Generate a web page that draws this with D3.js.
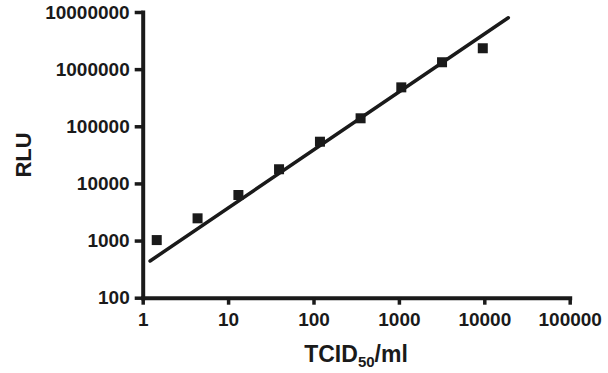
<!DOCTYPE html>
<html>
<head>
<meta charset="utf-8">
<script src="https://cdn.jsdelivr.net/npm/d3@7"></script>
<style>
  body { margin: 0; background: #fff; }
  svg { font-family: "Liberation Sans", Arial, sans-serif; font-weight: bold; }
</style>
</head>
<body>
<svg width="608" height="373"></svg>
<script>
// values
const tcid = [1.46, 4.39, 13.2, 39.5, 119, 356, 1067, 3200, 9600];
const rlu = [1020, 2450, 6270, 17700, 53700, 138000, 480000, 1320000, 2320000];
const fitX = [1.22, 19100];
const fitY = [439, 7940000];
const xTicks = [1, 10, 100, 1000, 10000, 100000];
const yTicks = [100, 1000, 10000, 100000, 1000000, 10000000];

const svg = d3.select("svg");
const ink = "#1a1a1a";

let xScale = d3.scaleLog().domain([1, 100000]).range([142.7, 569.7]);
let yScale = d3.scaleLog().domain([100, 10000000]).range([297.7, 12]);

// axes
let xAxis = d3.axisBottom(xScale).tickValues(xTicks)
  .tickFormat(d3.format("d")).tickSizeOuter(0).tickSizeInner(7).tickPadding(8);
svg.append("g").attr("id", "xAxisG")
  .attr("transform", `translate(0, ${yScale(100)})`)
  .call(xAxis);

let yAxis = d3.axisLeft(yScale).tickValues(yTicks)
  .tickFormat(d3.format("d")).tickSizeOuter(0).tickSizeInner(8).tickPadding(5);
svg.append("g").attr("id", "yAxisG")
  .attr("transform", `translate(${xScale(1)}, 0)`)
  .call(yAxis);

svg.selectAll("#xAxisG path, #yAxisG path")
  .style("stroke", ink).style("stroke-width", "4px").style("stroke-linecap", "square");
svg.selectAll("#xAxisG line, #yAxisG line")
  .style("stroke", ink).style("stroke-width", "3.5px");
svg.selectAll("#xAxisG text, #yAxisG text")
  .attr("fill", ink).style("font-size", "19px").style("font-weight", "bold")
  .style("font-family", "'Liberation Sans', Arial, sans-serif");

// fit line
let line = d3.line().x(d => xScale(d[0])).y(d => yScale(d[1]));
svg.append("path")
  .attr("d", line(d3.zip(fitX, fitY)))
  .attr("fill", "none")
  .style("stroke", ink)
  .style("stroke-width", "3.5px")
  .style("stroke-linecap", "round");

// points
let size = 10;
svg.selectAll("rect.pt")
  .data(d3.zip(tcid, rlu))
  .join("rect")
  .attr("class", "pt")
  .attr("x", d => xScale(d[0]) - size / 2)
  .attr("y", d => yScale(d[1]) - size / 2)
  .attr("width", size)
  .attr("height", size)
  .attr("fill", ink);

// axis titles
svg.append("text")
  .attr("transform", `translate(31, 155) rotate(-90)`)
  .attr("text-anchor", "middle")
  .style("font-size", "22px")
  .attr("fill", ink)
  .text("RLU");

let xt = svg.append("text")
  .attr("x", 356)
  .attr("y", 362)
  .attr("text-anchor", "middle")
  .style("font-size", "23px")
  .attr("fill", ink);
xt.append("tspan").text("TCID");
xt.append("tspan").attr("dy", 5).style("font-size", "15px").text("50");
xt.append("tspan").attr("dy", -5).text("/ml");
</script>
</body>
</html>
